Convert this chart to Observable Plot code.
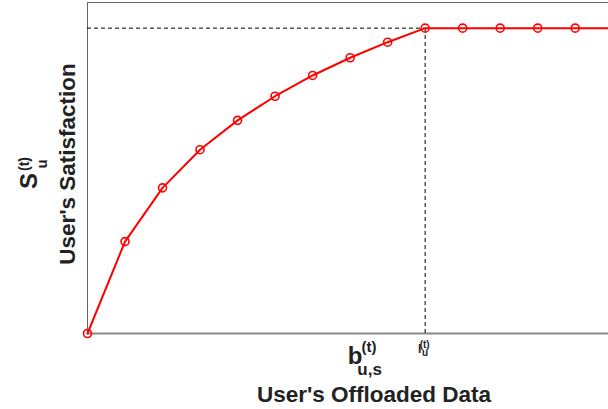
<!DOCTYPE html>
<html>
<head>
<meta charset="utf-8">
<script src="https://cdn.jsdelivr.net/npm/d3@7"></script>
<script src="https://cdn.jsdelivr.net/npm/@observablehq/plot@0.6"></script>
<style>
  html, body { margin: 0; padding: 0; background: #fff; overflow: hidden; width: 608px; height: 409px; }
  #chart { width: 608px; height: 409px; overflow: hidden; }
  svg { display: block; max-width: none !important; width: 640px !important; height: 409px !important; font-family: "Liberation Sans", Arial, Helvetica, sans-serif; }
</style>
</head>
<body>
<div id="chart"></div>
<script>
// ---- data ----
const dataIndex = [0, 1, 2, 3, 4, 5, 6, 7, 8, 9, 10, 11, 12, 13, 14];
const satisfaction = [0, 0.301, 0.477, 0.602, 0.698, 0.777, 0.845, 0.903, 0.954, 1, 1, 1, 1, 1, 1];
const saturationIndex = 9;   // l_u^(t)
const saturationValue = 1;
const markerIndex = 7;       // b_{u,s}^(t)
const xTitle = "User's Offloaded Data";
const yTitle = "User's Satisfaction";
const bLabel = ["b", "(t)", "u,s"];
const lLabel = ["l", "(t)", "u"];
const sLabel = ["S", "(t)", "u"];

const data = dataIndex.map((x, i) => ({x, y: satisfaction[i]}));

const plot = Plot.plot({
  width: 640,
  height: 409,
  marginLeft: 87,
  marginRight: 9,
  marginTop: 2,
  marginBottom: 76,
  x: {domain: [0, 14.5], axis: null},
  y: {domain: [0, 1.084], axis: null},
  marks: [
    Plot.frame({stroke: "#666", strokeWidth: 1}),
    Plot.ruleY([0], {stroke: "#888", strokeWidth: 2}),
    Plot.ruleY([saturationValue], {x1: 0, x2: saturationIndex, stroke: "#000", strokeWidth: 1, strokeDasharray: "4,3"}),
    Plot.ruleX([saturationIndex], {y1: 0, y2: saturationValue, stroke: "#000", strokeWidth: 1, strokeDasharray: "4,3"}),
    Plot.line(data, {x: "x", y: "y", stroke: "red", strokeWidth: 2}),
    Plot.dot(data, {x: "x", y: "y", r: 4, stroke: "red", strokeWidth: 1.6, fill: "none"})
  ]
});

document.getElementById("chart").appendChild(plot);

const sx = plot.scale("x"), sy = plot.scale("y");
const svg = d3.select(plot);
const y0 = sy.apply(0);
const g = svg.append("g").attr("font-weight", "bold").attr("fill", "#222");

// one <text> with absolutely positioned tspans: [string, x, y, size]
function label(parts, rotate) {
  const t = g.append("text");
  if (rotate) t.attr("transform", "rotate(-90)");
  for (const [s, x, y, size] of parts) {
    // for rotate(-90): local x = -screenY, local y = screenX
    t.append("tspan").text(s).attr("font-size", size)
      .attr("x", rotate ? -y : x).attr("y", rotate ? x : y);
  }
  return t;
}

// b_{u,s}^(t)
const bx = sx.apply(markerIndex);
label([
  [bLabel[0], bx + 5.5, y0 + 31, 24],
  [bLabel[1], bx + 19.5, y0 + 19, 15],
  [bLabel[2], bx + 20, y0 + 42, 17]
]);

// l_u^(t)
const lx = sx.apply(saturationIndex);
label([
  [lLabel[0], lx - 5, y0 + 20, 12],
  [lLabel[1], lx - 1.5 + 1.5, y0 + 15, 10],
  [lLabel[2], lx - 1 + 1.5, y0 + 23, 10]
]);

// x title
g.append("text").text(xTitle).attr("font-size", 22.5).attr("text-anchor", "middle")
  .attr("x", 374).attr("y", 402);

// y title
g.append("text").text(yTitle).attr("font-size", 22.5).attr("text-anchor", "middle")
  .attr("transform", `translate(75,164) rotate(-90)`);

// S_u^(t)
label([
  [sLabel[0], 37, 181, 24],
  [sLabel[1], 29, 164, 14],
  [sLabel[2], 47, 164, 15]
], true);
</script>
</body>
</html>
